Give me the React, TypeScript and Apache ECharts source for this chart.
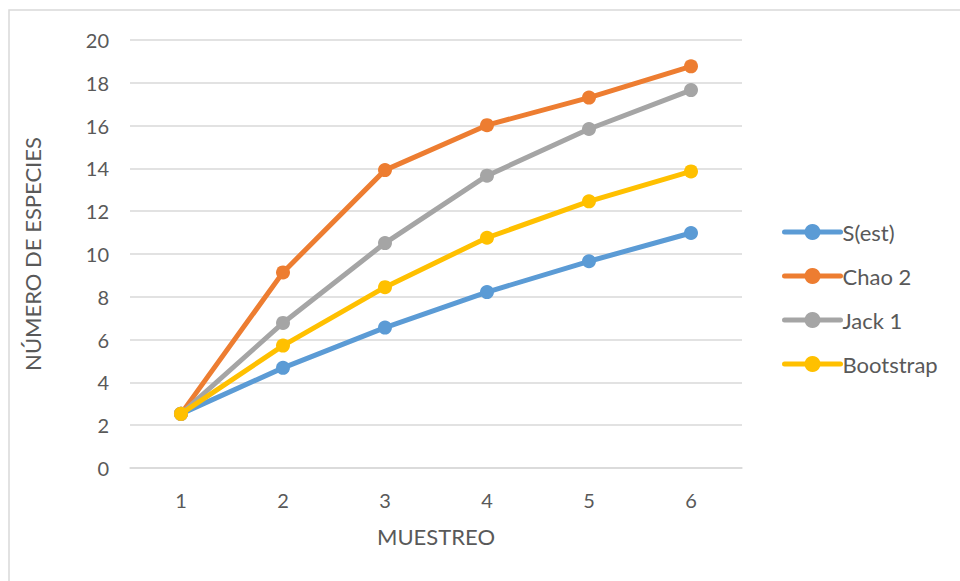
import React, { useEffect, useRef } from "react";
import * as echarts from "echarts";

const categories = ["1", "2", "3", "4", "5", "6"];
const sEst = [2.53, 4.68, 6.56, 8.22, 9.66, 10.98];
const chao2 = [2.53, 9.14, 13.92, 16.02, 17.31, 18.77];
const jack1 = [2.53, 6.78, 10.51, 13.66, 15.84, 17.66];
const bootstrap = [2.53, 5.72, 8.45, 10.76, 12.46, 13.86];
const seriesNames = ["S(est)", "Chao 2", "Jack 1", "Bootstrap"];
const colors = ["#5B9BD5", "#ED7D31", "#A5A5A5", "#FFC000"];

const FONT = "Lato, 'Open Sans', sans-serif";

export default function App() {
  const ref = useRef<HTMLDivElement>(null);
  useEffect(() => {
    if (!ref.current) return;
    const chart = echarts.init(ref.current, null, { renderer: "svg" });
    const data = [sEst, chao2, jack1, bootstrap];
    chart.setOption({
      animation: false,
      backgroundColor: "#ffffff",
      color: colors,
      textStyle: { fontFamily: FONT },
      graphic: [
        {
          type: "rect",
          shape: { x: 9, y: 10, width: 980, height: 600 },
          style: { fill: "none", stroke: "#d9d9d9", lineWidth: 1.5 },
          silent: true,
        },
      ],
      grid: { left: 130, right: 218, top: 40, bottom: 113 },
      legend: {
        orient: "vertical",
        left: 777,
        top: 216,
        itemGap: 22,
        itemWidth: 56,
        itemHeight: 20,
        lineStyle: { width: 5, cap: "round" },
        textStyle: { color: "#595959", fontSize: 22, fontFamily: FONT, padding: [0, 0, 0, -3] },
        data: seriesNames,
      },
      xAxis: {
        type: "category",
        data: categories,
        boundaryGap: true,
        name: "MUESTREO",
        nameLocation: "middle",
        nameGap: 57,
        nameTextStyle: { color: "#595959", fontSize: 22, fontFamily: FONT },
        axisLine: { show: true, lineStyle: { color: "#d9d9d9", width: 1.5 } },
        axisTick: { show: false },
        axisLabel: { color: "#595959", fontSize: 20, margin: 22, fontFamily: FONT },
      },
      yAxis: {
        type: "value",
        min: 0,
        max: 20,
        interval: 2,
        name: "NÚMERO DE ESPECIES",
        nameLocation: "middle",
        nameGap: 87,
        nameTextStyle: { color: "#595959", fontSize: 22, fontFamily: FONT },
        axisLine: { show: false },
        axisTick: { show: false },
        axisLabel: { color: "#595959", fontSize: 20, margin: 21, fontFamily: FONT },
        splitLine: { lineStyle: { color: "#d9d9d9", width: 1.5 } },
      },
      series: seriesNames.map((name, i) => ({
        name,
        type: "line",
        data: data[i],
        symbol: "circle",
        symbolSize: 14,
        lineStyle: { width: 5, color: colors[i], cap: "round" },
        itemStyle: { color: colors[i] },
        z: 2 + i,
      })),
    });
    return () => chart.dispose();
  }, []);
  return <div ref={ref} style={{ width: 960, height: 581, position: "absolute", left: 0, top: 0 }} />;
}
